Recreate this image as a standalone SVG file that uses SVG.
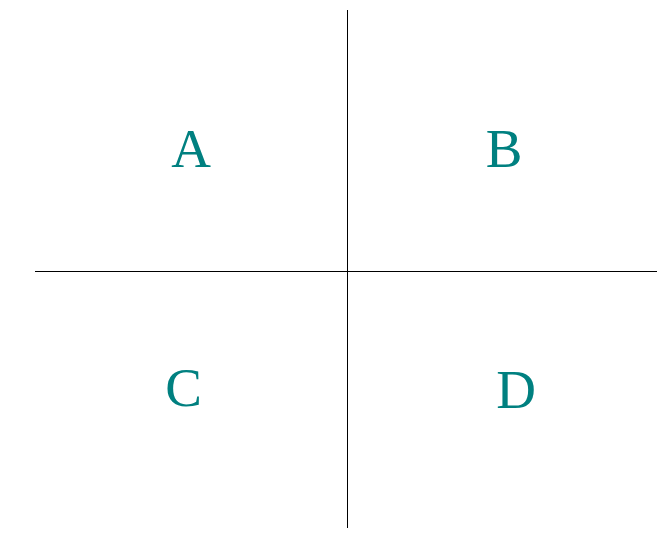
<svg xmlns="http://www.w3.org/2000/svg" width="657" height="553" viewBox="0 0 657 553">
<style>
.ax{stroke:#000;stroke-width:1;fill:none}
.lb{font-family:"Liberation Serif",serif;font-size:55px;fill:#008080;text-anchor:middle}
</style>
<rect width="657" height="553" fill="#fff"/>
<g id="connectors">
<line class="ax" x1="347.5" y1="10" x2="347.5" y2="528"/>
<line class="ax" x1="35" y1="271.5" x2="657" y2="271.5"/>
</g>
<g id="A"><text class="lb" x="191" y="166.5">A</text></g>
<g id="B"><text class="lb" x="504" y="167">B</text></g>
<g id="C"><text class="lb" x="183.5" y="406">C</text></g>
<g id="D"><text class="lb" x="516" y="408">D</text></g>
</svg>
